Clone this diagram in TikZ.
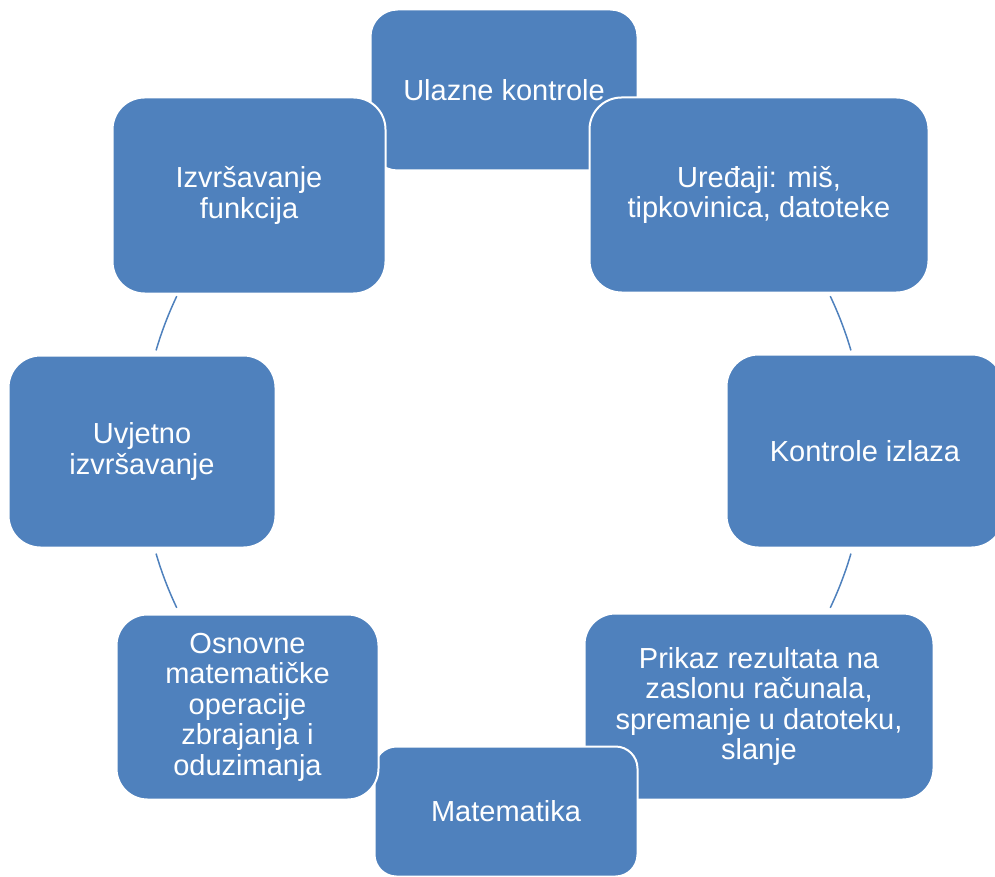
\documentclass[tikz,border=0pt]{standalone}
\usepackage{fontspec}
\setmainfont{Liberation Sans}
\usetikzlibrary{calc}
\definecolor{boxblue}{HTML}{4F81BD}
\begin{document}
\begin{tikzpicture}[x=1pt,y=-1pt,
  cbox/.style={fill=boxblue, draw=white, line width=2pt, text=white, align=center,
    inner sep=0pt, font=\fontsize{29}{30.5}\selectfont},
  conn/.style={draw=boxblue, line width=1.5pt}]
\useasboundingbox (0,0) rectangle (995,877);
\clip (0,0) rectangle (995,877);
\coordinate (ctr) at (503.5,452);
% connectors (arcs of the cycle)
\draw[conn] ($(ctr)+(25.5:362pt)$) coordinate (c23) arc[start angle=25.5, end angle=16.3, radius=362pt];
\draw[conn] ($(ctr)+(-16.3:362pt)$) coordinate (c34) arc[start angle=-16.3, end angle=-25.5, radius=362pt];
\draw[conn] ($(ctr)+(154.5:362pt)$) coordinate (c87) arc[start angle=154.5, end angle=163.7, radius=362pt];
\draw[conn] ($(ctr)+(196.3:362pt)$) coordinate (c76) arc[start angle=196.3, end angle=205.5, radius=362pt];
% boxes
\node[cbox, minimum width=267pt, minimum height=161pt, rounded corners=27pt] (n1) at (504,90) {Ulazne kontrole};
\node[cbox, minimum width=339pt, minimum height=195pt, rounded corners=32pt] (n2) at (759,195) {Uređaji: miš,\\tipkovinica, datoteke};
\node[cbox, minimum width=277pt, minimum height=193pt, rounded corners=32pt] (n3) at (865,451) {Kontrole izlaza};
\node[cbox, minimum width=349pt, minimum height=186pt, rounded corners=31pt] (n4) at (759,706.5) {Prikaz rezultata na\\zaslonu računala,\\spremanje u datoteku,\\slanje};
\node[cbox, minimum width=263pt, minimum height=130pt, rounded corners=22pt] (n5) at (506,811.5) {Matematika};
\node[cbox, minimum width=262pt, minimum height=185pt, rounded corners=31pt] (n6) at (247.5,707) {Osnovne\\matematičke\\operacije\\zbrajanja i\\oduzimanja};
\node[cbox, minimum width=267pt, minimum height=192pt, rounded corners=32pt] (n7) at (142,451.5) {Uvjetno\\izvršavanje};
\node[cbox, minimum width=273pt, minimum height=196pt, rounded corners=32pt] (n8) at (249,195.5) {Izvršavanje\\funkcija};
\end{tikzpicture}
\end{document}
